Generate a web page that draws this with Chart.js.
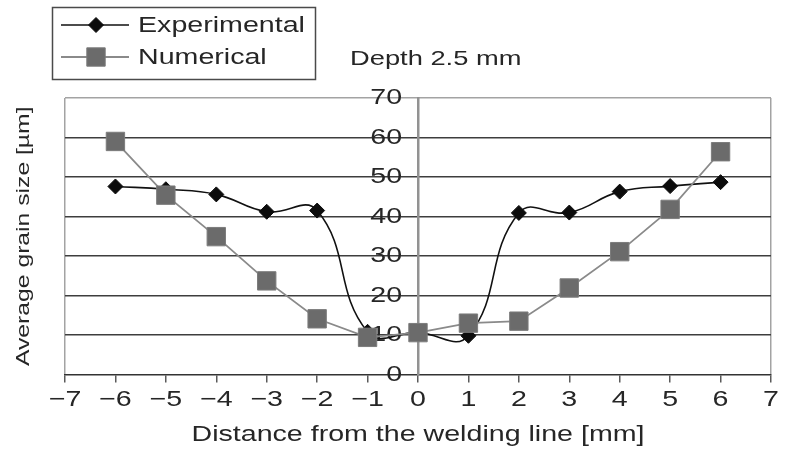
<!DOCTYPE html>
<html>
<head>
<meta charset="utf-8">
<title>Average grain size - depth 2.5 mm</title>
<script src="https://cdn.jsdelivr.net/npm/chart.js@4/dist/chart.umd.min.js"></script>
<style>
    html, body { margin: 0; padding: 0; background: #fff; }
    #chart { display: block; }
</style>
</head>
<body>
<canvas id="chart" width="785" height="455"></canvas>
<script>
// values
const distances = [-6, -5, -4, -3, -2, -1, 0, 1, 2, 3, 4, 5, 6];
const experimental = [47.6, 46.9, 45.6, 41.2, 41.5, 10.8, 10.6, 9.8, 40.9, 41.0, 46.3, 47.7, 48.7];
const numerical = [59.0, 45.4, 34.9, 23.7, 14.1, 9.4, 10.6, 13.0, 13.5, 21.9, 31.1, 41.8, 56.4];
const xTicks = [-7, -6, -5, -4, -3, -2, -1, 0, 1, 2, 3, 4, 5, 6, 7];
const yTicks = [0, 10, 20, 30, 40, 50, 60, 70];

const FONT = "'Liberation Sans', Arial, Helvetica, sans-serif";
const TEXT_COLOR = "#262626";
// the figure uses a wide Helvetica, so text is stretched a bit horizontally
const TEXT_STRETCH = 1.3;

const canvas = document.getElementById("chart");
const ctx = canvas.getContext("2d");
const plainFillText = ctx.fillText.bind(ctx);
ctx.fillText = function (text, x, y, maxWidth) {
    ctx.save();
    ctx.translate(x, y);
    ctx.scale(TEXT_STRETCH, 1);
    if (maxWidth === undefined) plainFillText(text, 0, 0);
    else plainFillText(text, 0, 0, maxWidth / TEXT_STRETCH);
    ctx.restore();
};

Chart.defaults.font.family = FONT;
Chart.defaults.color = TEXT_COLOR;

const toPoints = values => distances.map((x, i) => ({ x: x, y: values[i] }));

// Legend box + "Depth 2.5 mm" caption
const boxLegend = {
    id: "boxLegend",
    afterDraw(chart) {
        const c = chart.ctx;
        c.save();
        c.strokeStyle = "#4a4a4a";
        c.lineWidth = 1.5;
        c.strokeRect(52.5, 7.5, 263, 72);

        const entries = [chart.data.datasets[0], chart.data.datasets[1]];
        entries.forEach((ds, i) => {
            const y = 25 + i * 32;
            c.strokeStyle = ds.borderColor;
            c.lineWidth = ds.borderWidth;
            c.beginPath();
            c.moveTo(61, y);
            c.lineTo(129, y);
            c.stroke();

            c.fillStyle = ds.pointBackgroundColor;
            c.strokeStyle = ds.pointBorderColor;
            c.lineWidth = ds.pointBorderWidth;
            Chart.helpers.drawPoint(c, {
                pointStyle: ds.pointStyle,
                radius: ds.pointRadius,
                borderWidth: ds.pointBorderWidth,
                rotation: 0
            }, 96, y);

            c.fillStyle = TEXT_COLOR;
            c.font = "22px " + FONT;
            c.textAlign = "left";
            c.textBaseline = "middle";
            c.fillText(ds.label, 138, y + 1);
        });

        c.font = "21px " + FONT;
        c.fillText("Depth 2.5 mm", 350, 59);
        c.restore();
    }
};

new Chart(ctx, {
    type: "line",
    data: {
        datasets: [
            {
                label: "Experimental",
                data: toPoints(experimental),
                borderColor: "#111111",
                borderWidth: 1.6,
                tension: 0.45,
                pointStyle: "rectRot",
                pointRadius: 7.5,
                pointBackgroundColor: "#0c0c0c",
                pointBorderColor: "#0c0c0c",
                pointBorderWidth: 1,
                order: 1
            },
            {
                label: "Numerical",
                data: toPoints(numerical),
                borderColor: "#8a8a8a",
                borderWidth: 1.8,
                tension: 0,
                pointStyle: "rect",
                pointRadius: 13,
                pointBackgroundColor: "#6b6b6b",
                pointBorderColor: "#7c7c7c",
                pointBorderWidth: 1,
                order: 0
            }
        ]
    },
    options: {
        responsive: false,
        animation: false,
        devicePixelRatio: 1,
        layout: { padding: { left: 8, right: 8.5, top: 98, bottom: 0 } },
        plugins: {
            legend: { display: false },
            tooltip: { enabled: false }
        },
        scales: {
            x: {
                type: "linear",
                position: "bottom",
                min: -7,
                max: 7,
                afterBuildTicks: scale => { scale.ticks = xTicks.map(v => ({ value: v })); },
                ticks: {
                    // gap under the tick marks comes from the line height, so the
                    // last label does not push the plot edge inwards
                    font: { size: 22, lineHeight: 1.6 },
                    color: TEXT_COLOR,
                    padding: 0,
                    callback: v => v < 0 ? "\u2212" + Math.abs(v) : String(v)
                },
                grid: {
                    drawOnChartArea: true,
                    color: c => (c.tick && Math.abs(c.tick.value) === 7) ? "#a3a3a3" : "rgba(0,0,0,0)",
                    lineWidth: 1.5,
                    tickColor: "#5a5a5a",
                    tickLength: 8
                },
                border: { color: "#333333", width: 1.6 },
                title: {
                    display: true,
                    text: "Distance from the welding line [mm]",
                    font: { size: 22 },
                    color: TEXT_COLOR,
                    padding: { top: 3.6, bottom: 7.3 }
                }
            },
            y: {
                type: "linear",
                position: { x: 0 },
                min: 0,
                max: 70,
                afterBuildTicks: scale => { scale.ticks = yTicks.map(v => ({ value: v })); },
                ticks: {
                    font: { size: 22 },
                    color: TEXT_COLOR,
                    // a centred axis puts its labels right against the line
                    callback: v => v + "  "
                },
                grid: {
                    drawTicks: false,
                    color: c => c.tick.value === 70 ? "#a3a3a3" : (c.tick.value === 0 ? "rgba(0,0,0,0)" : "#3e3e3e"),
                    lineWidth: 1.4
                },
                border: { color: "#929292", width: 2.5 }
            },
            // carries only the y-axis title on the left edge
            yTitle: {
                type: "linear",
                position: "left",
                display: true,
                grid: { display: false, drawTicks: false },
                border: { display: false },
                ticks: { display: false },
                title: {
                    display: true,
                    text: "Average grain size [\u00b5m]",
                    font: { size: 19 },
                    color: TEXT_COLOR,
                    padding: { top: 4.6, bottom: 29.6 }
                }
            }
        }
    },
    plugins: [boxLegend]
});
</script>
</body>
</html>
